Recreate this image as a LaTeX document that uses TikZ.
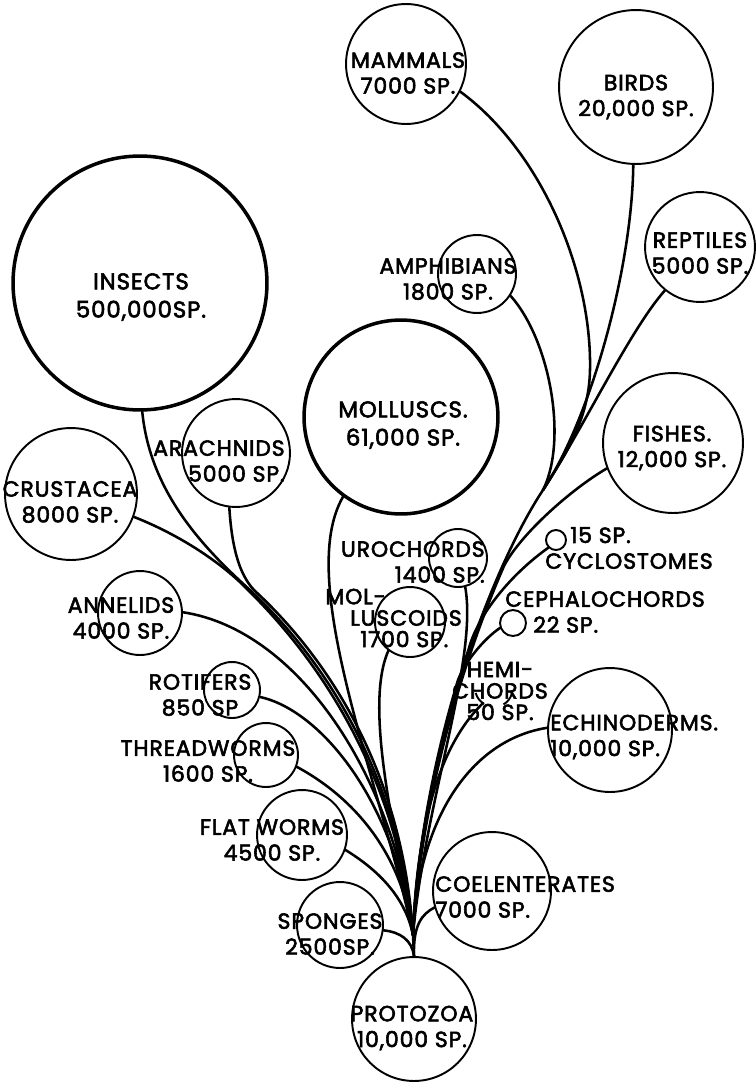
\documentclass[tikz,border=0pt]{standalone}
\usepackage{fontspec}
\setmainfont{Poppins}[FakeBold=2.6, LetterSpace=4]
\usepackage{tikz}

\begin{document}
\begin{tikzpicture}[x=0.02cm, y=-0.02cm,
        kreis/.style={circle, draw, line width=1.1pt, inner sep=0pt, minimum size=#1*0.04cm},
        dickkreis/.style={kreis=#1, line width=2pt},
        ast/.style={line width=1.45pt, line cap=round},
        beschriftung/.style={inner sep=0pt, align=center, font=\fontsize{12.5}{14.7}\selectfont}]

            % Rahmen
            \useasboundingbox (0,0) rectangle (756,1082);

            % Kreise: Name/x/y/Radius
            \foreach \name/\x/\y/\r in {saeuger/406/64/60, voegel/636/87/77, reptilien/700/247/55,
                    amphibien/477/274/39, spinnen/236/453/54, krebse/71/494/66, ringelwuermer/140/613/42,
                    raedertiere/232/690/28, fadenwuermer/266/755/32, plattwuermer/302/835/45,
                    schwaemme/340/925/43, urtiere/414/1019/62, hohltiere/492/891/59,
                    stachelhaeuter/610/730/62, fische/673/443/70, rundmaeuler/556/540/10,
                    schaedellose/513/623/13, manteltiere/458/558/29, moostierchen/410/622/35} {
                \node[kreis=\r] (\name) at (\x,\y) {};
            }
            \node[dickkreis=127] (insekten) at (140,283) {};
            \node[dickkreis=97] (weichtiere) at (401,417) {};

            % Hemichordaten: Kreis fast ganz hinter der Schrift
            \node[kreis=18, draw=none] (hemichordaten) at (494,688) {};
            \draw[line width=1.1pt] (hemichordaten.-165) arc[start angle=-165, end angle=-120, radius=0.36cm];
            \draw[line width=1.1pt] (hemichordaten.-60) arc[start angle=-60, end angle=-15, radius=0.36cm];

            % Beschriftungen
            \node[beschriftung] (saeuger-t) at (408,73) {MAMMALS\\7000 SP.};
            \node[beschriftung] (voegel-t) at (636,97) {BIRDS\\20,000 SP.};
            \node[beschriftung] (reptilien-t) at (700,253) {REPTILES\\5000 SP.};
            \node[beschriftung] (amphibien-t) at (448,279) {AMPHIBIANS\\1800 SP.};
            \node[beschriftung, font=\fontsize{13}{16}\selectfont] (insekten-t) at (141,297) {INSECTS\\500,000SP.};
            \node[beschriftung, font=\fontsize{13}{16}\selectfont] (weichtiere-t) at (403,425) {MOLLUSCS.\\61,000 SP.};
            \node[beschriftung, align=right, anchor=east] (spinnen-t) at (285,461) {ARACHNIDS\\5000 SP.};
            \node[beschriftung] (krebse-t) at (70,502) {CRUSTACEA\\8000 SP.};
            \node[beschriftung] (ringelwuermer-t) at (121,618) {ANNELIDS\\4000 SP.};
            \node[beschriftung] (raedertiere-t) at (200,695) {ROTIFERS\\850 SP};
            \node[beschriftung] (fadenwuermer-t) at (208,761) {THREADWORMS\\1600 SP.};
            \node[beschriftung] (plattwuermer-t) at (272,840) {FLAT WORMS\\4500 SP.};
            \node[beschriftung] (schwaemme-t) at (330,934) {SPONGES\\2500SP.};
            \node[beschriftung] (urtiere-t) at (412,1028) {PROTOZOA\\10,000 SP.};
            \node[beschriftung, align=left, anchor=west] (hohltiere-t) at (435,897) {COELENTERATES\\7000 SP.};
            \node[beschriftung, align=left, anchor=west] (stachelhaeuter-t) at (550,737) {ECHINODERMS.\\10,000 SP.};
            \node[beschriftung] (fische-t) at (672,448) {FISHES.\\12,000 SP.};
            \node[beschriftung, align=left, anchor=west] (rundmaeuler-t) at (545,548) {\hspace*{0.5cm}15 SP.\\CYCLOSTOMES};
            \node[beschriftung, align=left, anchor=west] (schaedellose-t) at (505,612) {CEPHALOCHORDS\\\hspace*{0.56cm}22 SP.};
            \node[beschriftung, align=right, anchor=east] (manteltiere-t) at (485,562) {UROCHORDS\\1400 SP.};
            \node[beschriftung, align=left, anchor=west, font=\fontsize{12.5}{12.2}\selectfont] (moostierchen-t) at (325,618) {MOL-\\\hspace*{0.5cm}LUSCOIDS\\\hspace*{0.7cm}1700 SP.};
            \node[beschriftung, font=\fontsize{12.5}{12.2}\selectfont] (hemichordaten-t) at (500,691) {HEMI-\\CHORDS\\50 SP.};

            % Wurzel und Stamm
            \coordinate (wurzel) at (413,935);
            \coordinate (stamm) at (543,490);
            \draw[ast] (wurzel) -- (urtiere.north);

            % Wirbeltiere
            \draw[ast] (saeuger.-27) .. controls (540,150) and (592,270) .. (590,370)
                .. controls (589,420) and (565,455) .. (stamm);
            \draw[ast] (voegel.-92) .. controls (632,270) and (590,420) .. (stamm);
            \draw[ast] (reptilien.-129) .. controls (630,330) and (585,425) .. (stamm);
            \draw[ast] (amphibien.-33) .. controls (550,340) and (568,440) .. (stamm);
            \draw[ast] (stamm) .. controls (490,570) and (420,760) .. (wurzel);
            \draw[ast] (fische.-159) .. controls (570,490) and (520,535) .. (504,566)
                .. controls (462,662) and (421,800) .. (wurzel);
            \draw[ast] (rundmaeuler.-135) .. controls (510,575) and (478,615) .. (469,648)
                .. controls (452,700) and (419,810) .. (wurzel);
            \draw[ast] (schaedellose.-159) .. controls (485,638) and (466,660) .. (458,680)
                .. controls (446,720) and (418,820) .. (wurzel);
            \draw[ast] (manteltiere.-76) .. controls (478,660) and (425,800) .. (wurzel);
            \draw[ast] (hemichordaten.-126) .. controls (455,730) and (418,790) .. (wurzel);
            \draw[ast] (stachelhaeuter.178) .. controls (470,740) and (418,820) .. (wurzel);
            \draw[ast] (hohltiere.-164) .. controls (422,914) and (413,925) .. (urtiere.north);

            % Wirbellose
            \draw[ast] (insekten.-89) .. controls (150,490) and (200,545) .. (250,590)
                .. controls (330,665) and (400,780) .. (wurzel);
            \draw[ast] (spinnen.-97) .. controls (232,550) and (240,575) .. (254,590)
                .. controls (334,664) and (403,778) .. (wurzel);
            \draw[ast] (krebse.-20) .. controls (180,535) and (222,563) .. (248,590)
                .. controls (326,667) and (398,782) .. (wurzel);
            \draw[ast] (ringelwuermer.1) .. controls (300,630) and (395,780) .. (wurzel);
            \draw[ast] (raedertiere.-14) .. controls (320,710) and (395,800) .. (wurzel);
            \draw[ast] (fadenwuermer.-21) .. controls (340,790) and (400,840) .. (wurzel);
            \draw[ast] (plattwuermer.-19) .. controls (375,868) and (405,895) .. (wurzel);
            \draw[ast] (schwaemme.-7) .. controls (400,932) and (412,940) .. (urtiere.north);
            \draw[ast] (weichtiere.-126) .. controls (295,580) and (380,780) .. (wurzel);
            \draw[ast] (moostierchen.-127) .. controls (362,710) and (400,850) .. (wurzel);
        \end{tikzpicture}
\end{document}
